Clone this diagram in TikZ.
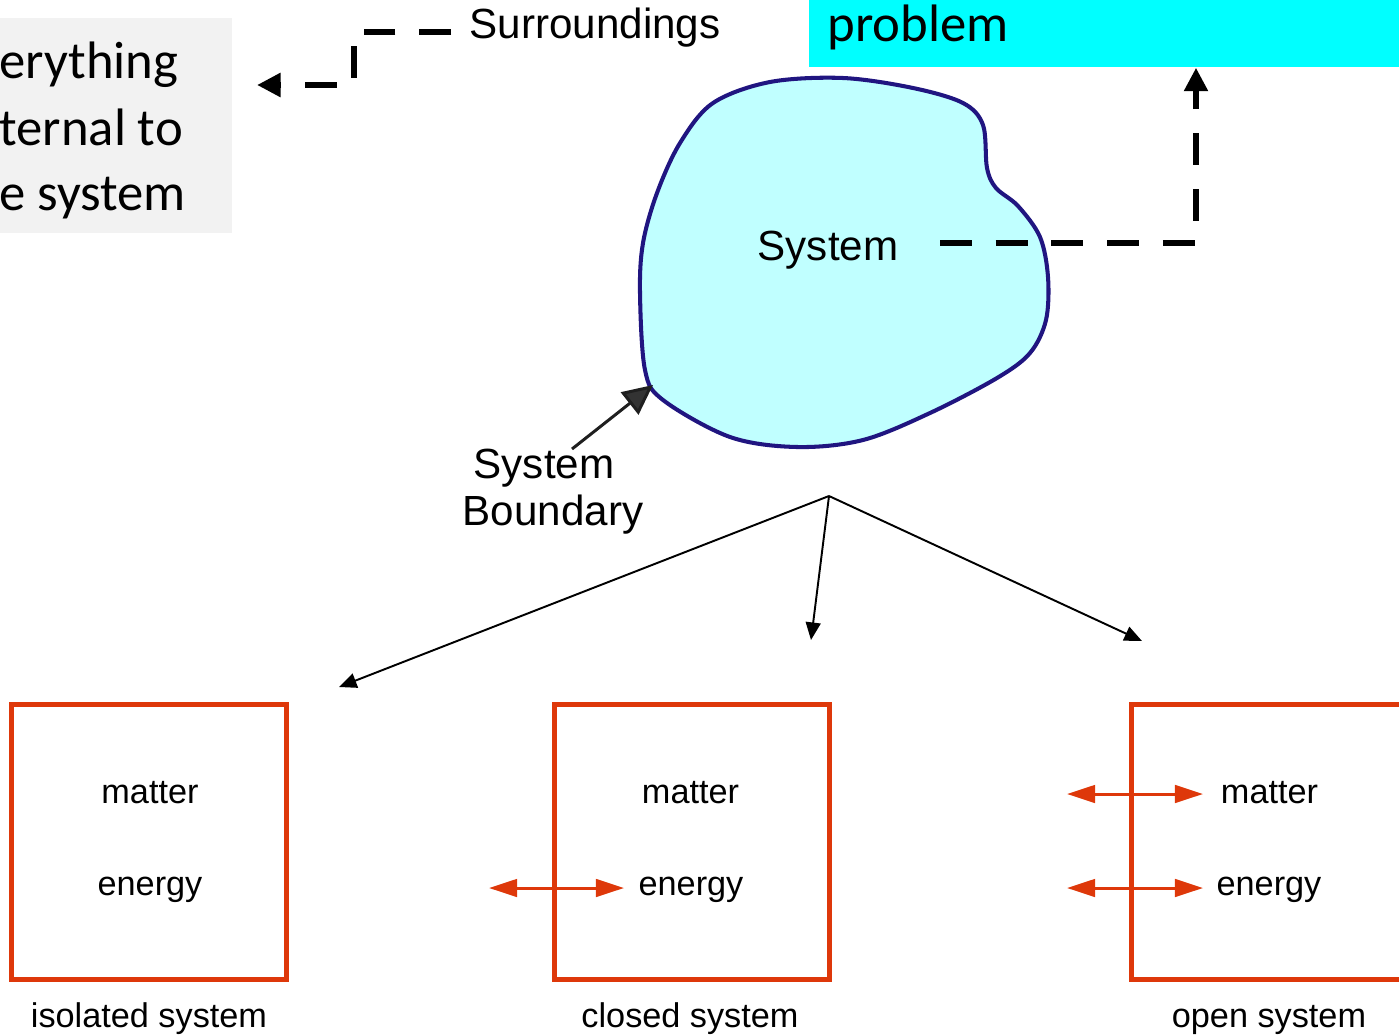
\documentclass[tikz,border=0pt]{standalone}
\usepackage{fontspec}
\setmainfont{Liberation Sans}
\newfontfamily\calibri{Carlito}
\usetikzlibrary{arrows.meta}
\definecolor{boxred}{HTML}{DE380A}
\definecolor{blobfill}{HTML}{C0FFFF}
\definecolor{blobline}{HTML}{201580}
\definecolor{notegray}{HTML}{F2F2F2}
\definecolor{probcyan}{HTML}{00FFFF}
\definecolor{darkhead}{HTML}{333333}

\begin{document}
\begin{tikzpicture}[
		x=0.02cm, y=-0.02cm,
		lbl/.style={font=\fontsize{24}{28}\selectfont, inner sep=0pt, anchor=base},
		small/.style={font=\fontsize{19.5}{23}\selectfont, inner sep=0pt, anchor=base},
		note/.style={font=\calibri\fontsize{30}{36}\selectfont, inner sep=0pt, anchor=base west},
		sysbox/.style={draw=boxred, line width=2.8pt, minimum width=5.5cm, minimum height=5.5cm, inner sep=0pt},
		dasharrow/.style={line width=3.4pt, dash pattern=on 18.1pt off 13.6pt, -{Triangle[length=13.4pt,width=13pt]}},
		flow/.style={line width=1.1pt, -{Triangle[length=10pt,width=8.5pt]}},
		xfer/.style={draw=boxred, line width=1.7pt, {Triangle[length=16pt,width=10pt]}-{Triangle[length=16pt,width=10pt]}}
	]
	\useasboundingbox (0,0) rectangle (1399,1035);
	\clip (0,0) rectangle (1399,1035);

	% note and problem panels
	\node[fill=notegray, minimum width=4.64cm, minimum height=4.3cm, inner sep=0pt, anchor=north west] (notebox) at (0,18) {};
	\node[note] (ev1) at (-1,78) {erything};
	\node[note] (ev2) at (-1,145) {ternal to};
	\node[note] (ev3) at (-1,210) {e system};
	\node[fill=probcyan, minimum width=11.8cm, minimum height=1.34cm, inner sep=0pt, anchor=north west] (prob) at (809,0) {};
	\node[note] (probtxt) at (827,41) {problem};

	% the system
	\draw[draw=blobline, fill=blobfill, line width=2.3pt] plot[smooth cycle, tension=0.55] coordinates {
		(843,78) (913,88) (963,103) (983,125) (987,168) (996,188) (1018,206) (1040,237)
		(1048,277) (1046,320) (1030,353) (997,378) (930,413) (863,440) (797,447)
		(730,437) (663,400) (645,370) (640,293) (643,243) (657,193) (680,143) (713,103) (770,82)};
	\node[lbl] (sys) at (828,260) {System};
	\node[lbl] (surr) at (595,38) {Surroundings};
	\node[lbl] (sb1) at (544,478) {System};
	\node[lbl] (sb2) at (553,525) {Boundary};

	\coordinate (s0) at (451,32);
	\coordinate (sbend) at (354,32);
	\coordinate (stip) at (257,85);
	\draw[dasharrow] (s0) -- (sbend) |- (stip);

	\coordinate (sysout) at (940,243);
	\coordinate (turn) at (1196,243);
	\draw[dasharrow] (sysout) -- (turn) -- (turn |- prob.south);

	\coordinate (bstart) at (572,449);
	\coordinate (bnd) at (653,385);
	\draw[line width=1.7pt, -{Triangle[length=17pt,width=16pt,fill=darkhead]}, darkhead!60!black] (bstart) -- (bnd);

	% three kinds
	\coordinate (apex) at (829,496);
	\coordinate (to1) at (339,687);
	\coordinate (to2) at (811,640);
	\coordinate (to3) at (1142,641);
	\foreach \t in {to1,to2,to3}
		\draw[flow] (apex) -- (\t);

	\node[sysbox] (iso) at (149.25,842) {};
	\node[sysbox] (clo) at (691.75,842) {};
	\node[sysbox] (opn) at (1268.5,842) {};

	\node[small] (m1) at (150,803) {matter};
	\node[small] (e1) at (150,895) {energy};
	\node[small] (m2) at (690.5,803) {matter};
	\node[small] (e2) at (691,895) {energy};
	\node[small] (m3) at (1269.5,803) {matter};
	\node[small] (e3) at (1269,895) {energy};

	\node[small] (c1) at (149,1027) {isolated system};
	\node[small] (c2) at (690,1027) {closed system};
	\node[small] (c3) at (1269,1027) {open system};

	\coordinate (x2a) at (489,888);
	\coordinate (x2b) at (624,888);
	\coordinate (x3a) at (1067,794);
	\coordinate (x3b) at (1203,794);
	\coordinate (x4a) at (1067,888);
	\coordinate (x4b) at (1203,888);
	\draw[xfer] (x2a) -- (x2b);
	\draw[xfer] (x3a) -- (x3b);
	\draw[xfer] (x4a) -- (x4b);
\end{tikzpicture}
\end{document}
